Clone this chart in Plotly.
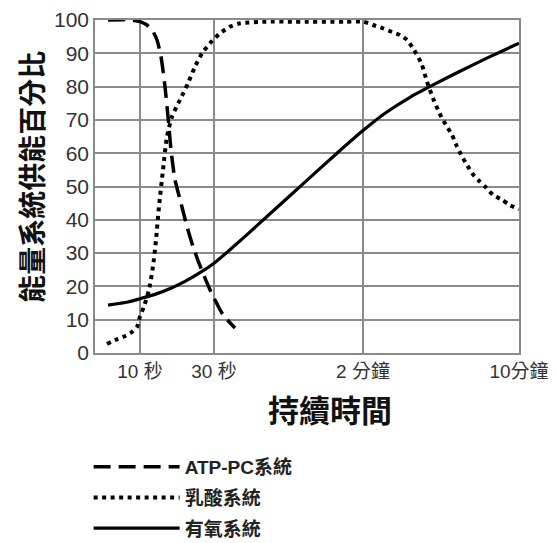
import plotly.graph_objects as go

# ---- data (x in relative duration-scale units; ticks mark the named durations) ----
x_tick_pos = [45, 119, 268, 424]
x_tick_text = ["10 秒", "30 秒", "2 分鐘", "10分鐘"]
y_tick_vals = [0, 10, 20, 30, 40, 50, 60, 70, 80, 90, 100]

atp_x = [13, 35, 45, 52, 58, 62, 66, 70, 73, 76, 80, 86, 92, 98, 104, 115, 128, 140]
atp_y = [100, 100, 99.5, 98.5, 96.5, 94, 89, 80, 71, 61, 52, 45, 38, 32, 27, 19, 11.5, 7.5]

lactic_x = [12, 20, 28, 37, 42, 45, 49, 54, 58, 61, 64, 68, 72, 77, 85, 93, 100, 107, 115,
            125, 135, 145, 170, 200, 250, 268, 278, 288, 297, 305, 312, 318, 323, 327, 332,
            338, 343, 347, 352, 357, 362, 367, 372, 377, 383, 390, 398, 407, 415, 424]
lactic_y = [2.7, 3.9, 4.8, 6.3, 7.8, 11, 14, 19, 26, 34, 44, 55, 65, 71, 76, 81, 86, 90, 93,
            96, 98, 99, 99.5, 99.5, 99.5, 99.5, 98.5, 97.5, 96.4, 95.5, 94, 91.5, 89, 86.5, 81.5,
            76.5, 73, 70.5, 68, 65.5, 62, 59, 56.5, 54, 52, 50, 47.5, 46, 44.4, 43.2]

aero_x = [13, 33, 45, 60, 77, 90, 107, 120, 133, 147, 175, 208, 242, 268, 290, 315, 340, 365, 395, 424]
aero_y = [14.4, 15.3, 16.3, 17.6, 19.6, 21.5, 24.5, 27.2, 30.5, 34.2, 41.8, 50.8, 60, 66.8, 72, 76.8, 80.8, 84.6, 89, 93]

series_names = ["ATP-PC系統", "乳酸系統", "有氧系統"]
x_title = "持續時間"
y_title = "能量系統供能百分比"

GRID = "#8a8a8a"
CJK = "Noto Sans CJK TC"
LAT = "Liberation Sans, Noto Sans CJK TC"

fig = go.Figure()
fig.add_trace(go.Scatter(x=atp_x, y=atp_y, mode="lines", name=series_names[0], legendgroup="a",
                         line=dict(color="black", width=3.5, dash="17px,8px", shape="spline", smoothing=0.6)))
fig.add_trace(go.Scatter(x=lactic_x, y=lactic_y, mode="lines", name=series_names[1], legendgroup="b",
                         line=dict(color="black", width=4, dash="4px,4.5px", shape="spline", smoothing=0.6)))
fig.add_trace(go.Scatter(x=aero_x, y=aero_y, mode="lines", name=series_names[2], legendgroup="c",
                         line=dict(color="black", width=3.2, shape="spline", smoothing=0.6)))

fig.update_xaxes(range=[0, 424], tickmode="array", tickvals=x_tick_pos, ticktext=x_tick_text,
                 showgrid=True, gridcolor=GRID, gridwidth=1.5, zeroline=False,
                 showline=True, linecolor=GRID, linewidth=1.5, mirror=True, ticks="",
                 tickfont=dict(family=LAT, size=19, color="#333"))
fig.update_yaxes(range=[0, 100], tickmode="array", tickvals=y_tick_vals,
                 showgrid=True, gridcolor=GRID, gridwidth=1.5, zeroline=False,
                 showline=True, linecolor=GRID, linewidth=1.5, mirror=True, ticks="",
                 tickfont=dict(family=LAT, size=21, color="#333"))

fig.add_annotation(text=x_title, xref="paper", yref="paper", x=0.554, y=-0.168,
                   xanchor="center", yanchor="middle", showarrow=False,
                   font=dict(family=CJK, size=31, color="#111", weight="bold"))
fig.add_annotation(text=y_title, xref="paper", yref="paper", x=-0.153, y=0.53,
                   xanchor="center", yanchor="middle", showarrow=False, textangle=-90,
                   font=dict(family=CJK, size=28, color="#111", weight="bold"))

# page body has an 8px margin, so the figure is 8px smaller and margins shifted
fig.update_layout(
    width=548, height=535,
    margin=dict(l=87, r=37, t=12, b=190, autoexpand=False),
    plot_bgcolor="white", paper_bgcolor="white",
    showlegend=True,
    legend=dict(x=-0.015, y=-0.285, xanchor="left", yanchor="top", traceorder="grouped",
                tracegroupgap=3, itemwidth=86, bgcolor="rgba(0,0,0,0)",
                font=dict(family=LAT, size=19, color="#222", weight="bold")),
)

fig.write_html("out.html")
